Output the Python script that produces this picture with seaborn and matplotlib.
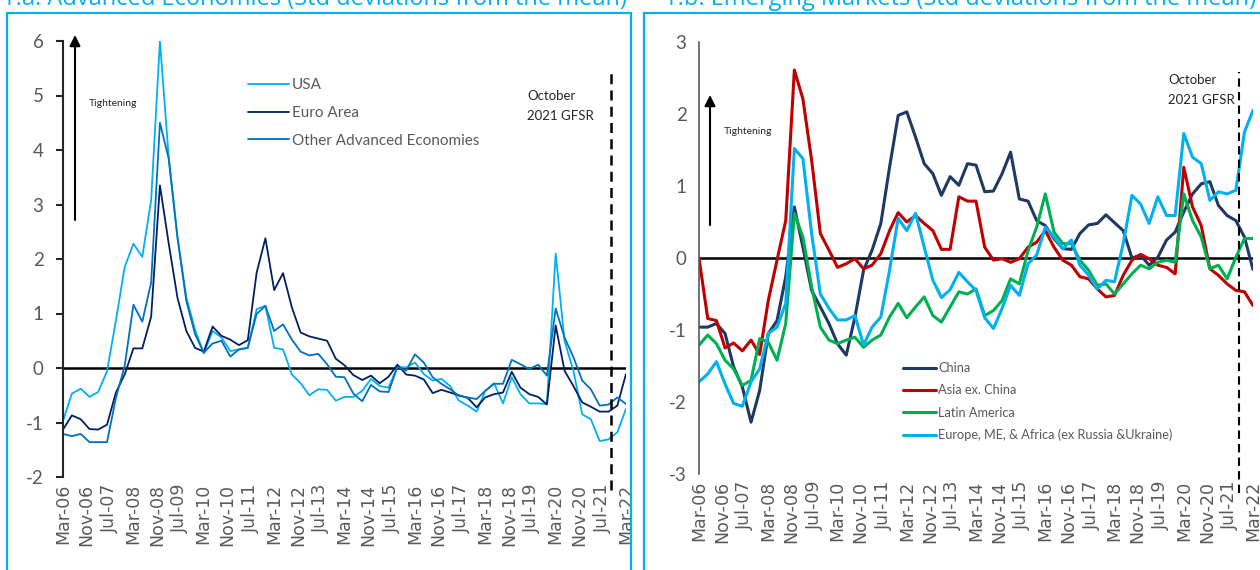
import pandas as pd
import numpy as np
import matplotlib
matplotlib.use('Agg')
import matplotlib.pyplot as plt
import matplotlib.dates as mdates
from matplotlib.patches import Rectangle, FancyArrowPatch
import seaborn as sns

sns.set_style('white')
plt.rcParams['font.family'] = ['Lato', 'DejaVu Sans']
plt.rcParams['axes.unicode_minus'] = False

# quarterly observations, Mar-06 .. Mar-22
quarters = pd.date_range('2006-03-01', '2022-03-01', freq='3MS')

# --- 1.a Advanced economies ---
usa = [-0.97, -0.47, -0.38, -0.53, -0.44, -0.06, 0.87, 1.85, 2.28, 2.04, 3.08, 6.0, 3.9, 2.4, 1.3, 0.7,
       0.27, 0.68, 0.56, 0.31, 0.34, 0.37, 1.08, 1.14, 0.37, 0.34, -0.12, -0.28, -0.5, -0.39, -0.4, -0.6,
       -0.53, -0.53, -0.42, -0.2, -0.33, -0.36, 0.02, 0.01, 0.1, -0.11, -0.23, -0.2, -0.33, -0.6, -0.69,
       -0.8, -0.42, -0.28, -0.65, -0.17, -0.48, -0.65, -0.65, -0.66, 2.1, 0.5, -0.05, -0.85, -0.94, -1.34,
       -1.31, -1.18, -0.75]
euro = [-1.13, -0.87, -0.94, -1.12, -1.13, -1.04, -0.45, -0.12, 0.36, 0.36, 0.94, 3.35, 2.3, 1.29, 0.68,
        0.37, 0.3, 0.76, 0.59, 0.52, 0.42, 0.51, 1.75, 2.38, 1.43, 1.74, 1.11, 0.65, 0.58, 0.54, 0.5, 0.17,
        0.05, -0.13, -0.22, -0.14, -0.28, -0.16, 0.06, -0.12, -0.14, -0.21, -0.46, -0.4, -0.45, -0.5, -0.55,
        -0.72, -0.54, -0.48, -0.45, -0.07, -0.36, -0.48, -0.53, -0.67, 0.78, -0.05, -0.33, -0.63, -0.71,
        -0.8, -0.8, -0.69, -0.11]
other_adv = [-1.21, -1.25, -1.21, -1.36, -1.36, -1.36, -0.55, 0.04, 1.16, 0.85, 1.57, 4.5, 3.85, 2.4, 1.23,
             0.62, 0.28, 0.45, 0.5, 0.21, 0.34, 0.37, 0.99, 1.14, 0.68, 0.8, 0.52, 0.3, 0.23, 0.26, 0.07,
             -0.16, -0.17, -0.47, -0.61, -0.31, -0.43, -0.44, 0.02, -0.05, 0.25, 0.1, -0.17, -0.29, -0.39,
             -0.51, -0.54, -0.57, -0.42, -0.29, -0.29, 0.15, 0.07, -0.02, 0.06, -0.14, 1.09, 0.56, 0.2,
             -0.23, -0.39, -0.69, -0.67, -0.54, -0.66]

# --- 1.b Emerging markets ---
china = [-0.96, -0.96, -0.91, -1.05, -1.51, -1.79, -2.28, -1.84, -1.05, -0.87, -0.26, 0.71, 0.15, -0.45,
         -0.68, -0.91, -1.19, -1.35, -0.82, -0.17, 0.11, 0.48, 1.26, 1.98, 2.03, 1.68, 1.31, 1.17, 0.87,
         1.13, 1.01, 1.31, 1.29, 0.92, 0.93, 1.17, 1.47, 0.82, 0.79, 0.52, 0.45, 0.27, 0.13, 0.12, 0.34,
         0.46, 0.48, 0.6, 0.49, 0.38, 0.0, 0.04, -0.1, 0.01, 0.25, 0.36, 0.64, 0.89, 1.03, 1.06, 0.73,
         0.59, 0.52, 0.29, -0.16]
asia_ex_china = [0.0, -0.84, -0.87, -1.25, -1.18, -1.29, -1.14, -1.34, -0.59, -0.03, 0.52, 2.61, 2.21,
                 1.36, 0.34, 0.11, -0.13, -0.08, -0.01, -0.15, -0.1, 0.06, 0.38, 0.63, 0.5, 0.59, 0.48,
                 0.38, 0.12, 0.12, 0.85, 0.79, 0.79, 0.15, -0.03, -0.01, -0.06, -0.01, 0.15, 0.22, 0.38,
                 0.15, -0.03, -0.1, -0.26, -0.29, -0.43, -0.54, -0.52, -0.24, -0.03, 0.05, -0.01, -0.1,
                 -0.13, -0.22, 1.26, 0.71, 0.45, -0.15, -0.24, -0.36, -0.45, -0.47, -0.66]
latam = [-1.21, -1.07, -1.19, -1.42, -1.54, -1.77, -1.7, -1.12, -1.17, -1.42, -0.91, 0.62, 0.29, -0.4,
         -0.96, -1.14, -1.19, -1.14, -1.1, -1.24, -1.14, -1.07, -0.82, -0.63, -0.83, -0.68, -0.54, -0.8,
         -0.89, -0.68, -0.47, -0.5, -0.43, -0.8, -0.73, -0.59, -0.29, -0.36, 0.1, 0.43, 0.89, 0.36, 0.2,
         0.2, -0.03, -0.17, -0.38, -0.36, -0.5, -0.36, -0.22, -0.1, -0.15, -0.06, -0.03, -0.06, 0.89,
         0.52, 0.29, -0.15, -0.1, -0.29, 0.01, 0.27, 0.27]
emea = [-1.72, -1.61, -1.44, -1.75, -2.02, -2.06, -1.72, -1.54, -1.05, -0.96, -0.63, 1.52, 1.38, 0.34,
        -0.5, -0.7, -0.86, -0.86, -0.8, -1.21, -0.96, -0.82, -0.17, 0.55, 0.38, 0.62, 0.15, -0.31, -0.55,
        -0.44, -0.2, -0.33, -0.45, -0.83, -0.98, -0.7, -0.38, -0.52, -0.08, 0.04, 0.43, 0.29, 0.13, 0.25,
        -0.1, -0.24, -0.43, -0.31, -0.33, 0.2, 0.87, 0.75, 0.48, 0.85, 0.59, 0.59, 1.73, 1.4, 1.31, 0.8,
        0.92, 0.89, 0.94, 1.75, 2.05]

adv_names = ['USA', 'Euro Area', 'Other Advanced Economies']
adv_series = [usa, euro, other_adv]
adv_colors = ['#00B0F0', '#002060', '#0070C0']

em_names = ['China', 'Asia ex. China', 'Latin America', 'Europe, ME, & Africa (ex Russia &Ukraine)']
em_series = [china, asia_ex_china, latam, emea]
em_colors = ['#203864', '#C00000', '#00B050', '#00B0F0']

tick_dates = pd.date_range('2006-03-01', '2022-03-01', freq='8MS')
gfsr_date = pd.Timestamp('2021-09-30')

W, H = 1260, 570
fig = plt.figure(figsize=(12.6, 5.7), dpi=100)


def fx(px):
    return px / W


def fy(py):
    return 1 - py / H


ax1 = fig.add_axes([fx(63), fy(477), fx(626 - 63), (477 - 41) / H])
ax2 = fig.add_axes([fx(699), fy(474), fx(1253 - 699), (474 - 42) / H])

gray = '#595959'


def draw_panel(ax, names, series, colors, lw, ylim):
    df = pd.DataFrame({'date': np.tile(quarters, len(names)),
                       'value': np.concatenate(series),
                       'series': np.repeat(names, len(quarters))})
    sns.lineplot(data=df, x='date', y='value', hue='series', hue_order=names,
                 palette=colors, linewidth=lw, ax=ax, legend=True)
    ax.axhline(0, color='black', lw=1.8, zorder=1)
    ax.set_xlim(quarters[0], quarters[-1])
    ax.set_ylim(*ylim)
    ax.set_yticks(range(ylim[0], ylim[1] + 1))
    ax.set_xticks(tick_dates)
    ax.xaxis.set_major_formatter(mdates.DateFormatter('%b-%y'))
    ax.set_xlabel('')
    ax.set_ylabel('')
    for s in ['top', 'right', 'bottom']:
        ax.spines[s].set_visible(False)
    ax.tick_params(axis='x', length=0, pad=5, labelrotation=90, labelsize=12.5, labelcolor=gray)
    for lab in ax.get_xticklabels():
        lab.set_family('DejaVu Sans')
    ax.tick_params(axis='y', labelsize=13.5, labelcolor=gray, pad=9)
    ax.set_facecolor('none')


draw_panel(ax1, adv_names, adv_series, adv_colors, 1.3, (-2, 6))
draw_panel(ax2, em_names, em_series, em_colors, 2.2, (-3, 3))

ax1.spines['left'].set_color('#262626')
ax1.spines['left'].set_linewidth(1.5)
ax1.tick_params(axis='y', direction='out', length=5, width=1.5, color='#262626', left=True)
ax2.spines['left'].set_color(gray)
ax2.spines['left'].set_linewidth(1.2)
ax2.tick_params(axis='y', length=0, left=False)

# legends
ax1.legend(loc='upper left', bbox_to_anchor=(fx(242), fy(72)), bbox_transform=fig.transFigure,
           frameon=False, fontsize=11, labelcolor=gray, handlelength=2.7, handletextpad=0.15,
           labelspacing=0.9, borderaxespad=0)
ax2.legend(loc='upper left', bbox_to_anchor=(fx(898), fy(357)), bbox_transform=fig.transFigure,
           frameon=False, fontsize=9.2, labelcolor=gray, handlelength=2.6, handletextpad=0.15,
           labelspacing=0.8, borderaxespad=0)

# October 2021 GFSR markers
ax1.axvline(gfsr_date, ymin=-0.03, ymax=0.935, color='black', lw=1.8, ls=(0, (4, 2.5)), clip_on=False)
ax2.axvline(gfsr_date, ymin=-0.045, ymax=0.93, color='black', lw=1.5, ls=(0, (4, 2.5)), clip_on=False)
fig.text(fx(527), fy(106), 'October\n2021 GFSR', fontsize=9.5, color='#262626', va='center', ha='left',
         linespacing=1.7)
fig.text(fx(1168), fy(90), 'October\n2021 GFSR', fontsize=9.5, color='#262626', va='center', ha='left',
         linespacing=1.7)

# tightening arrows
arrow = dict(arrowstyle='-|>', color='black', lw=1.5, mutation_scale=16, shrinkA=0, shrinkB=0)
fig.add_artist(FancyArrowPatch((fx(75), fy(220)), (fx(75), fy(35)), transform=fig.transFigure, **arrow))
fig.add_artist(FancyArrowPatch((fx(710), fy(225)), (fx(710), fy(95)), transform=fig.transFigure, **arrow))
fig.text(fx(89), fy(103), 'Tightening', fontsize=7.5, color='#262626', va='center')
fig.text(fx(724), fy(131), 'Tightening', fontsize=7.5, color='#262626', va='center')

# panel frames and (cropped) titles
box = '#00B0F0'
fig.add_artist(Rectangle((fx(7), -0.05), fx(631 - 7), fy(13) + 0.05, transform=fig.transFigure,
                         fill=False, ec=box, lw=1.6))
fig.add_artist(Rectangle((fx(644), -0.05), fx(1275 - 644), fy(13) + 0.05, transform=fig.transFigure,
                         fill=False, ec=box, lw=1.6, clip_on=False))
fig.text(fx(2), fy(5), '1.a. Advanced Economies (Std deviations from the mean)', color=box,
         fontsize=17, family=['Open Sans', 'DejaVu Sans'], va='baseline')
fig.text(fx(664), fy(5), '1.b. Emerging Markets (Std deviations from the mean)', color=box,
         fontsize=17, family=['Open Sans', 'DejaVu Sans'], va='baseline')

fig.savefig('out.png', dpi=100)
